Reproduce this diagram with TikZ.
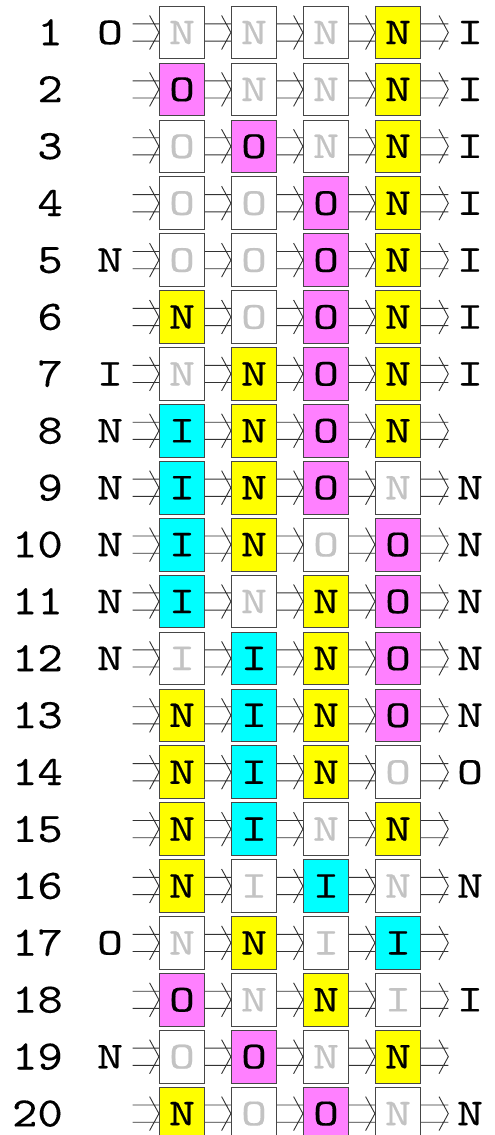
\documentclass[tikz,border=0pt]{standalone}
\usepackage{fontspec}
\newfontfamily\cellfont{lmmono10-regular.otf}[FakeStretch=1.3,FakeBold=0.4]
\newfontfamily\numfont{lmmono10-regular.otf}[FakeStretch=1.15,FakeBold=0.2]
\definecolor{nyellow}{RGB}{255,255,0}
\definecolor{omagenta}{RGB}{255,128,255}
\definecolor{icyan}{RGB}{0,255,255}
\definecolor{coldtext}{RGB}{195,195,195}
\definecolor{boxline}{RGB}{70,70,70}
% double-lined connector with an open chevron at its tip
\newcommand\imp[2]{\draw[impline] ([yshift=8.6pt]#1) -- ([yshift=8.6pt]#2) ([yshift=-8.6pt]#1) -- ([yshift=-8.6pt]#2) ([shift={(-9.3pt,17pt)}]#2) -- (#2) -- ([shift={(-9.3pt,-17pt)}]#2);}

\begin{document}
\begin{tikzpicture}[x=1pt,y=-1pt,
  lab/.style={font=\cellfont\fontsize{38}{38}\selectfont,inner sep=0pt,text height=23.2pt,text depth=0pt},
  rownum/.style={font=\numfont\fontsize{42}{42}\selectfont,anchor=east,inner sep=0pt,text height=25.6pt,text depth=0pt},
  cell/.style={lab,draw=boxline,line width=.8pt,minimum width=45.4pt,minimum height=52.7pt},
  cold/.style={fill=white,text=coldtext},
  stNh/.style={fill=nyellow,node contents=N},
  stOh/.style={fill=omagenta,node contents=O},
  stIh/.style={fill=icyan,node contents=I},
  stNc/.style={cold,node contents=N},
  stOc/.style={cold,node contents=O},
  stIc/.style={cold,node contents=I},
  impline/.style={draw=black!80,line width=.9pt}]
\useasboundingbox (0,0) rectangle (495,1135);
\foreach \r/\inp/\ka/\kb/\kc/\kd/\outp in {
  1/O/Nc/Nc/Nc/Nh/I, 2//Oh/Nc/Nc/Nh/I, 3//Oc/Oh/Nc/Nh/I, 4//Oc/Oc/Oh/Nh/I,
  5/N/Oc/Oc/Oh/Nh/I, 6//Nh/Oc/Oh/Nh/I, 7/I/Nc/Nh/Oh/Nh/I, 8/N/Ih/Nh/Oh/Nh/,
  9/N/Ih/Nh/Oh/Nc/N, 10/N/Ih/Nh/Oc/Oh/N, 11/N/Ih/Nc/Nh/Oh/N, 12/N/Ic/Ih/Nh/Oh/N,
  13//Nh/Ih/Nh/Oh/N, 14//Nh/Ih/Nh/Oc/O, 15//Nh/Ih/Nc/Nh/, 16//Nh/Ic/Ih/Nc/N,
  17/O/Nc/Nh/Ic/Ih/, 18//Oh/Nc/Nh/Ic/I, 19/N/Oc/Oh/Nc/Nh/, 20//Nh/Oc/Oh/Nc/N}{
  \pgfmathsetmacro\y{32.5+(\r-1)*56.9}
  \node[rownum] (n\r) at (63,\y) {\r};
  \node[lab] (in\r) at (110,\y) {\inp};
  \coordinate (s\r) at (132.7,\y);
  \node[cell,name=c\r-1,at={(182,\y)},st\ka];
  \node[cell,name=c\r-2,at={(254,\y)},st\kb];
  \node[cell,name=c\r-3,at={(326,\y)},st\kc];
  \node[cell,name=c\r-4,at={(398,\y)},st\kd];
  \coordinate (t\r) at (448.3,\y);
  \node[lab] (out\r) at (470,\y) {\outp};
  \imp{s\r}{c\r-1.west}
  \imp{c\r-1.east}{c\r-2.west}
  \imp{c\r-2.east}{c\r-3.west}
  \imp{c\r-3.east}{c\r-4.west}
  \imp{c\r-4.east}{t\r}
}
\end{tikzpicture}
\end{document}
